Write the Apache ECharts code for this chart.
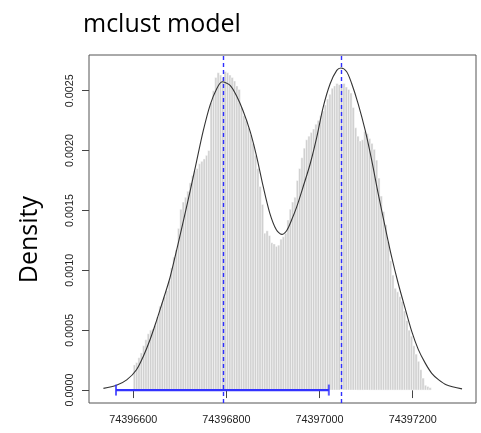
<!DOCTYPE html>
<html>
<head>
<meta charset="utf-8">
<script src="https://cdn.jsdelivr.net/npm/echarts@6/dist/echarts.min.js"></script>
<style>
html,body{margin:0;padding:0;background:#fff;}
#chart{width:481px;height:433px;}
</style>
</head>
<body>
<div id="chart"></div>
<script>
// ---- data ----
const titleText = 'mclust model';
const yAxisTitle = 'Density';

const binStart = 74396600;
const binWidth = 5;
const histDensity = [
  0.00021,0.00023,0.00027,0.00031,0.00037,0.00042,0.00047,0.00050,0.00051,0.00054,
  0.00061,0.00070,0.00073,0.00078,0.00083,0.00091,0.00102,0.00111,0.00117,0.00135,
  0.00151,0.00157,0.00161,0.00166,0.00173,0.00179,0.00183,0.00185,0.00189,0.00191,
  0.00193,0.00196,0.00200,0.00240,0.00250,0.00261,0.00265,0.00263,0.00261,0.00266,
  0.00265,0.00263,0.00261,0.00258,0.00254,0.00251,0.00236,0.00229,0.00225,0.00219,
  0.00213,0.00206,0.00196,0.00185,0.00170,0.00155,0.00131,0.00133,0.00129,0.00123,
  0.00122,0.00120,0.00121,0.00126,0.00128,0.00131,0.00142,0.00151,0.00157,0.00161,
  0.00175,0.00185,0.00194,0.00202,0.00209,0.00212,0.00215,0.00218,0.00222,0.00225,
  0.00229,0.00233,0.00238,0.00243,0.00247,0.00252,0.00254,0.00256,0.00255,0.00255,
  0.00256,0.00253,0.00251,0.00248,0.00236,0.00219,0.00212,0.00208,0.00209,0.00216,
  0.00214,0.00210,0.00206,0.00201,0.00192,0.00177,0.00162,0.00149,0.00138,0.00124,
  0.00108,0.00096,0.00085,0.00082,0.00078,0.00074,0.00066,0.00058,0.00050,0.00045,
  0.00037,0.00030,0.00024,0.00017,0.00010,0.00004,0.00003,0.00002
];

const curveX = [
  74396536,74396564,74396586,74396607,74396622,74396636,74396650,74396664,74396679,74396692,
  74396704,74396722,74396736,74396750,74396765,74396779,74396791,74396808,74396822,74396836,
  74396851,74396865,74396879,74396893,74396907,74396919,74396930,74396940,
  74396951,74396965,74396980,74396994,74397008,74397023,74397037,74397046,74397058,74397069,
  74397083,74397098,74397112,74397126,74397141,74397155,74397169,74397184,74397198,
  74397212,74397227,74397241,74397256,74397272,74397306
];
const curveY = [
  0.000014,0.000040,0.000085,0.000170,0.000285,0.000420,0.000580,0.000750,0.000940,0.001150,
  0.001350,0.001660,0.001910,0.002160,0.002380,0.002515,0.002574,0.002545,0.002455,0.002330,
  0.002160,0.001950,0.001700,0.001480,0.001340,0.001300,0.001335,0.001420,
  0.001530,0.001700,0.001890,0.002110,0.002365,0.002560,0.002670,0.002690,0.002660,0.002560,
  0.002390,0.002170,0.001920,0.001640,0.001360,0.001110,0.000890,0.000680,0.000490,
  0.000340,0.000225,0.000140,0.000085,0.000045,0.000010
];

const peakMeans = [74396793, 74397046];
const intervalRange = [74396563, 74397020];

const xTicks = [74396600, 74396800, 74397000, 74397200];
const yTicks = [0, 0.0005, 0.0010, 0.0015, 0.0020, 0.0025];
const yTickLabels = ['0.0000','0.0005','0.0010','0.0015','0.0020','0.0025'];

const xRange = [74396505, 74397336];
const yRange = [-0.000108, 0.002798];

// ---- build series ----
const histData = histDensity.map((d, i) => [binStart + i * binWidth, binStart + (i + 1) * binWidth, d]);
const curveData = curveX.map((x, i) => [x, curveY[i]]);

const chart = echarts.init(document.getElementById('chart'), null, {renderer: 'canvas'});
const labelFont = {fontFamily: 'Liberation Sans, Arial, sans-serif', fontSize: 10.8, color: '#222'};

chart.setOption({
  animation: false,
  backgroundColor: '#fff',
  title: {
    text: titleText,
    left: 78, top: 7,
    textStyle: {fontFamily: 'Open Sans', fontSize: 25, fontWeight: 'normal', color: '#000'}
  },
  graphic: [{
    type: 'text',
    left: 17, top: 196,
    rotation: Math.PI / 2,
    style: {text: yAxisTitle, font: '25px "Open Sans"', fill: '#000'}
  }],
  grid: {left: 89, top: 55, right: 5, bottom: 30, show: true, borderColor: '#555', borderWidth: 1, backgroundColor: 'transparent'},
  xAxis: {
    type: 'value', min: xRange[0], max: xRange[1],
    axisLine: {show: false},
    splitLine: {show: false},
    axisTick: {show: true, length: 8, lineStyle: {color: '#444'}, customValues: xTicks},
    axisLabel: Object.assign({margin: 12, customValues: xTicks, formatter: v => String(Math.round(v))}, labelFont)
  },
  yAxis: {
    type: 'value', min: yRange[0], max: yRange[1],
    axisLine: {show: false},
    splitLine: {show: false},
    axisTick: {show: true, length: 7, lineStyle: {color: '#444'}, customValues: yTicks},
    axisLabel: Object.assign({margin: 13, rotate: 90, customValues: yTicks,
      formatter: v => { const i = yTicks.findIndex(t => Math.abs(t - v) < 1e-9); return i >= 0 ? yTickLabels[i] : ''; }}, labelFont)
  },
  series: [
    {
      type: 'custom',
      data: histData,
      encode: {x: [0, 1], y: 2},
      renderItem: function (params, api) {
        const p0 = api.coord([api.value(0), api.value(2)]);
        const p1 = api.coord([api.value(1), 0]);
        return {
          type: 'rect',
          shape: {x: p0[0], y: p0[1], width: p1[0] - p0[0], height: p1[1] - p0[1]},
          style: {fill: '#d0d0d0', stroke: '#ffffff', lineWidth: 0.45}
        };
      },
      z: 1
    },
    {
      type: 'line',
      data: curveData,
      smooth: 0.3,
      showSymbol: false,
      lineStyle: {color: '#333', width: 1.1},
      z: 3,
      markLine: {
        silent: true,
        symbol: ['none', 'none'],
        label: {show: false},
        lineStyle: {color: '#2f2fff', width: 1.4, type: [4, 3]},
        data: peakMeans.map(v => ({xAxis: v}))
      }
    },
    {
      type: 'line',
      data: intervalRange.map(v => [v, 0]),
      showSymbol: false,
      lineStyle: {color: '#3333ff', width: 2.2},
      z: 4
    },
    {
      type: 'scatter',
      data: intervalRange.map(v => [v, 0]),
      symbol: 'rect',
      symbolSize: [2, 11],
      itemStyle: {color: '#3333ff'},
      z: 4
    }
  ]
});
</script>
</body>
</html>
